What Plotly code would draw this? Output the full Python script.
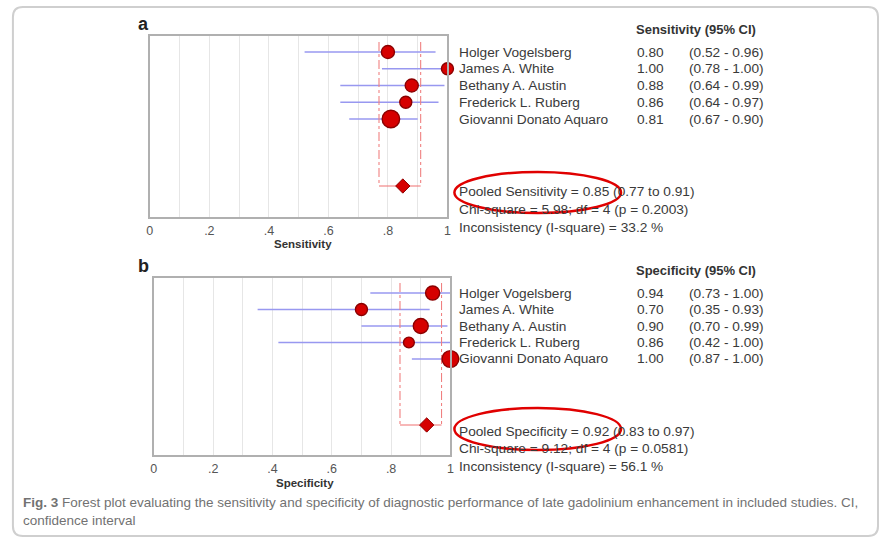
import plotly.graph_objects as go

W, H = 883, 539

# ---------------- data ----------------
studies = ["Holger Vogelsberg", "James A. White", "Bethany A. Austin",
           "Frederick L. Ruberg", "Giovanni Donato Aquaro"]

sens_est = [0.80, 1.00, 0.88, 0.86, 0.81]
sens_lo = [0.52, 0.78, 0.64, 0.64, 0.67]
sens_hi = [0.96, 1.00, 0.99, 0.97, 0.90]
sens_weight = [19, 16, 19, 16, 34]
sens_pooled = [0.85, 0.77, 0.91]
sens_stats = ["Pooled Sensitivity = 0.85 (0.77 to 0.91)",
              "Chi-square = 5.98; df = 4 (p = 0.2003)",
              "Inconsistency (I-square) = 33.2 %"]

spec_est = [0.94, 0.70, 0.90, 0.86, 1.00]
spec_lo = [0.73, 0.35, 0.70, 0.42, 0.87]
spec_hi = [1.00, 0.93, 0.99, 1.00, 1.00]
spec_weight = [22, 16, 25, 13, 31]
spec_pooled = [0.92, 0.83, 0.97]
spec_stats = ["Pooled Specificity = 0.92 (0.83 to 0.97)",
              "Chi-square = 9.12; df = 4 (p = 0.0581)",
              "Inconsistency (I-square) = 56.1 %"]

tick_vals = [0, 0.2, 0.4, 0.6, 0.8, 1.0]
tick_text = ["0", ".2", ".4", ".6", ".8", "1"]

caption1 = ("<b>Fig. 3</b> Forest plot evaluating the sensitivity and specificity of diagnostic "
            "performance of late gadolinium enhancement in included studies. CI,")
caption2 = "confidence interval"

# ---------------- helpers ----------------
def px(x):
    return x / W

def py(y):
    return 1 - y / H

FONT = "Liberation Sans, Arial, sans-serif"
RED = "#d60000"
POOL_ROW = 9
TS = 13.7

fig = go.Figure()


def add_panel(xa, ya, est, lo, hi, weight, pooled):
    rows = list(range(1, len(est) + 1))
    cx, cy = [], []
    for r, a, b in zip(rows, lo, hi):
        cx += [a, b, None]
        cy += [r, r, None]
    fig.add_trace(go.Scatter(x=cx, y=cy, mode="lines", xaxis=xa, yaxis=ya,
                             line=dict(color="#9898f0", width=1.6),
                             hoverinfo="skip", showlegend=False, cliponaxis=False))
    p, plo, phi = pooled
    fig.add_trace(go.Scatter(x=[plo, plo, None, phi, phi], y=[0.4, POOL_ROW, None, 0.4, POOL_ROW],
                             mode="lines", xaxis=xa, yaxis=ya,
                             line=dict(color="#f08080", width=1.1, dash="dashdot"),
                             hoverinfo="skip", showlegend=False))
    fig.add_trace(go.Scatter(x=[plo, phi], y=[POOL_ROW, POOL_ROW], mode="lines",
                             xaxis=xa, yaxis=ya,
                             line=dict(color="#f07070", width=1.2),
                             hoverinfo="skip", showlegend=False))
    sizes = [3.0 * w ** 0.5 for w in weight]
    fig.add_trace(go.Scatter(x=est, y=rows, mode="markers", xaxis=xa, yaxis=ya,
                             marker=dict(size=sizes, color=RED, opacity=1,
                                         line=dict(color="#8a0000", width=1.4)),
                             showlegend=False, cliponaxis=False))
    fig.add_trace(go.Scatter(x=[p], y=[POOL_ROW], mode="markers", xaxis=xa, yaxis=ya,
                             marker=dict(size=11, symbol="diamond", color=RED, opacity=1,
                                         line=dict(color="#900000", width=1)),
                             showlegend=False, cliponaxis=False))


add_panel("x", "y", sens_est, sens_lo, sens_hi, sens_weight, sens_pooled)
add_panel("x2", "y2", spec_est, spec_lo, spec_hi, spec_weight, spec_pooled)

xaxis_common = dict(
    range=[0, 1], tickvals=tick_vals, ticktext=tick_text,
    showgrid=True, gridcolor="#e6e6e6", gridwidth=1,
    minor=dict(dtick=0.1, tick0=0, showgrid=True, gridcolor="#e6e6e6", gridwidth=1),
    showline=True, mirror=True, linecolor="#b0b0b0", linewidth=2,
    ticks="", ticklabelstandoff=1,
    tickfont=dict(family=FONT, size=12.5, color="#555555"),
    zeroline=False, fixedrange=True,
)
yaxis_common = dict(showticklabels=False, showgrid=False, zeroline=False,
                    showline=True, mirror=True, linecolor="#b0b0b0", linewidth=2,
                    ticks="", fixedrange=True)

fig.update_layout(
    width=W, height=H,
    margin=dict(l=0, r=0, t=0, b=0),
    paper_bgcolor="white", plot_bgcolor="white",
    xaxis=dict(domain=[px(148), px(448)], anchor="y", **xaxis_common),
    yaxis=dict(domain=[py(217), py(36)], anchor="x", range=[10.85, 0.045], **yaxis_common),
    xaxis2=dict(domain=[px(152), px(451)], anchor="y2", **xaxis_common),
    yaxis2=dict(domain=[py(455), py(278)], anchor="x2", range=[10.82, 0.09], **yaxis_common),
)

ann = []


def txt(x, y, s, size=TS, color="#3a3a3a", anchor="left", yref="paper", bold=False):
    if bold:
        s = "<b>" + s + "</b>"
    ann.append(dict(x=x, y=y, xref="paper", yref=yref, text=s, showarrow=False,
                    xanchor=anchor, yanchor="middle", borderpad=0,
                    font=dict(family=FONT, size=size, color=color)))


def panel_text(yref, est, lo, hi, header, header_y, stats, stats_y, label, label_y,
               title, title_x, title_y):
    rows = list(range(1, len(est) + 1))
    for r, name, e, a, b in zip(rows, studies, est, lo, hi):
        txt(px(459), r, name, yref=yref)
        txt(px(667), r, f"{e:.2f}", anchor="right", yref=yref)
        txt(px(768), r, f"({a:.2f} - {b:.2f})", anchor="right", yref=yref)
    txt(px(760), py(header_y), header, size=13, color="#333333", anchor="right", bold=True)
    for s, yy in zip(stats, stats_y):
        txt(px(459), py(yy), s)
    txt(px(142), py(label_y), label, size=18, color="#222222", anchor="center", bold=True)
    txt(px(title_x), py(title_y), title, size=11.5, color="#333333", anchor="center", bold=True)


panel_text("y", sens_est, sens_lo, sens_hi, "Sensitivity (95% CI)", 29,
           sens_stats, [191, 209, 227], "a", 24, "Sensitivity", 302, 244)
panel_text("y2", spec_est, spec_lo, spec_hi, "Specificity (95% CI)", 270,
           spec_stats, [431, 448, 466], "b", 266, "Specificity", 304, 483)

# caption
txt(px(19), py(503), caption1, size=13.5, color="#727272")
txt(px(19), py(520), caption2, size=13.5, color="#727272")

fig.update_layout(annotations=ann)

# shapes: page border and highlight ellipses
x0, y0, x1, y1, r = 10, 7, 882, 536, 10
path = (f"M {px(x0 + r)},{py(y0)} L {px(x1 - r)},{py(y0)} "
        f"Q {px(x1)},{py(y0)} {px(x1)},{py(y0 + r)} L {px(x1)},{py(y1 - r)} "
        f"Q {px(x1)},{py(y1)} {px(x1 - r)},{py(y1)} L {px(x0 + r)},{py(y1)} "
        f"Q {px(x0)},{py(y1)} {px(x0)},{py(y1 - r)} L {px(x0)},{py(y0 + r)} "
        f"Q {px(x0)},{py(y0)} {px(x0 + r)},{py(y0)} Z")
shapes = [
    dict(type="path", path=path, xref="paper", yref="paper",
         line=dict(color="#cfcfcf", width=2), layer="below"),
    dict(type="circle", xref="paper", yref="paper",
         x0=px(455), x1=px(623), y0=py(172), y1=py(213),
         line=dict(color="#e00000", width=2.5)),
    dict(type="circle", xref="paper", yref="paper",
         x0=px(455), x1=px(623), y0=py(408), y1=py(450),
         line=dict(color="#e00000", width=2.5)),
]
fig.update_layout(shapes=shapes)

fig.write_html("out.html", config={"displayModeBar": False},
               post_script="document.body.style.margin='0';document.body.style.overflow='hidden';")
